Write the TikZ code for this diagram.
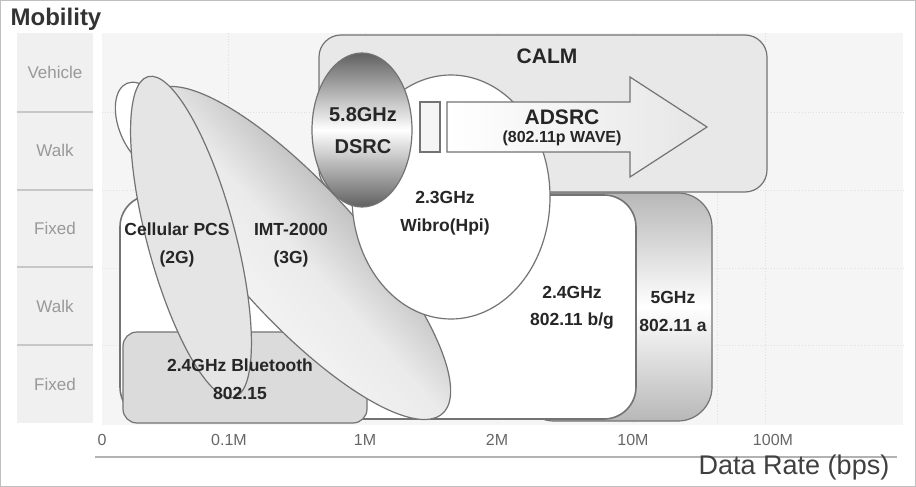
\documentclass[tikz,border=0pt]{standalone}
\usepackage{fontspec}
\setmainfont{Liberation Sans}
\usetikzlibrary{shapes.geometric}
\tikzstyle{zone} = [rectangle, draw=black!55, line width=1.2pt, inner sep=0pt]
\tikzstyle{blob} = [ellipse, draw=black!55, line width=1.2pt, inner sep=0pt]
\tikzstyle{tag} = [font=\fontsize{17.5}{28}\selectfont\bfseries, text=black!85, align=center, inner sep=0pt]
\tikzstyle{rowname} = [font=\fontsize{17}{20}\selectfont, text=black!40, inner sep=0pt]
\tikzstyle{ratelbl} = [font=\fontsize{16}{18}\selectfont, text=black!60, inner sep=0pt]
\tikzstyle{gridline} = [black!12, dotted, line width=0.8pt]

\begin{document}
\begin{tikzpicture}[x=1pt, y=-1pt]
    \useasboundingbox (0,0) rectangle (916,487);
    \draw [black!25] (0.5,0.5) rectangle (915.5,486.5);

    \node [font=\fontsize{24}{26}\selectfont\bfseries, text=black!80, inner sep=0pt] at (56,19) (mobility) {Mobility};
    \node [rectangle, fill=black!6, minimum width=76pt, minimum height=390pt, inner sep=0pt] at (55,228) (rows) {};
    \foreach \yy in {112,190,267,345}
        \draw [black!22, line width=1.5pt] (17,\yy) -- (93,\yy);
    \foreach \yy/\txt [count=\i] in {72/Vehicle, 150/Walk, 228/Fixed, 306/Walk, 384/Fixed}
        \node [rowname] at (55,\yy) (row\i) {\txt};

    \node [rectangle, fill=black!4, minimum width=801pt, minimum height=392pt, inner sep=0pt] at (502.5,229) (plot) {};
    \foreach \yy in {112,190,268,345}
        \draw [gridline] (102,\yy) -- (903,\yy);
    \foreach \xx in {228,365,497,633,717,765}
        \draw [gridline] (\xx,33) -- (\xx,425);

    \node [zone, rounded corners=34pt, minimum width=192pt, minimum height=228pt, top color=black!28, bottom color=black!28, middle color=white] at (616,307) (fivezone) {};
    \node [zone, rounded corners=32pt, line width=1.6pt, fill=white, minimum width=516pt, minimum height=224pt] at (378,307) (wlanzone) {};
    \node [zone, rounded corners=14pt, fill=black!14, minimum width=244pt, minimum height=91pt] at (245,377.5) (btzone) {};
    \node [zone, rounded corners=22pt, fill=black!9, minimum width=448pt, minimum height=157pt] at (543,113.5) (calm) {};

    \node [blob, fill=white, minimum width=50pt, minimum height=90pt, rotate=22] at (144,125) (oldcell) {};
    \node [blob, top color=black!50, bottom color=white, middle color=black!8, shading angle=-48, minimum width=132pt, minimum height=432pt, rotate=42] at (298,253) (imt) {};
    \node [blob, fill=black!10, minimum width=88pt, minimum height=332pt, rotate=15] at (191,237) (cell) {};

    \node [blob, fill=white, minimum width=198pt, minimum height=244pt] at (451,197) (wibro) {};
    \node [zone, fill=black!4, minimum width=20pt, minimum height=50pt] at (430,127) (gap) {};
    \draw [black!55, line width=1.2pt, left color=white, right color=black!10] (447,102) -- (630,102) -- (630,77) -- (707,127) -- (630,177) -- (630,152) -- (447,152) -- cycle;
    \node [blob, top color=black!62, bottom color=black!62, middle color=white, minimum width=100pt, minimum height=154pt] at (362,130) (dsrc) {};

    \node [tag, font=\fontsize{21}{24}\selectfont\bfseries] at (547,56) (calmtxt) {CALM};
    \node [tag, font=\fontsize{21}{24}\selectfont\bfseries] at (562,117) (adsrc) {ADSRC};
    \node [tag, font=\fontsize{16}{18}\selectfont\bfseries] at (562,138) (wave) {(802.11p WAVE)};
    \node [tag, font=\fontsize{20}{32}\selectfont\bfseries] at (363,131) (dsrctxt) {5.8GHz\\DSRC};
    \node [tag] at (445,213) (wibrotxt) {2.3GHz\\Wibro(Hpi)};
    \node [tag] at (177,245) (celltxt) {Cellular PCS\\(2G)};
    \node [tag] at (291,245) (imttxt) {IMT-2000\\(3G)};
    \node [tag] at (240,379) (bttxt) {2.4GHz Bluetooth\\802.15};
    \node [tag, font=\fontsize{17.5}{27}\selectfont\bfseries] at (572,308) (wlantxt) {2.4GHz\\802.11 b/g};
    \node [tag] at (673,311) (fivetxt) {5GHz\\802.11 a};

    \foreach \xx/\txt [count=\i] in {102/0, 229/0.1M, 365/1M, 497/2M, 633/10M, 773/100M}
        \node [ratelbl] at (\xx,440) (rate\i) {\txt};
    \draw [black!30, line width=2.5pt] (95,457) -- (897,457);
    \node [font=\fontsize{27}{30}\selectfont, text=black!75, inner sep=0pt] at (794,468) (datarate) {Data Rate (bps)};
\end{tikzpicture}
\end{document}
